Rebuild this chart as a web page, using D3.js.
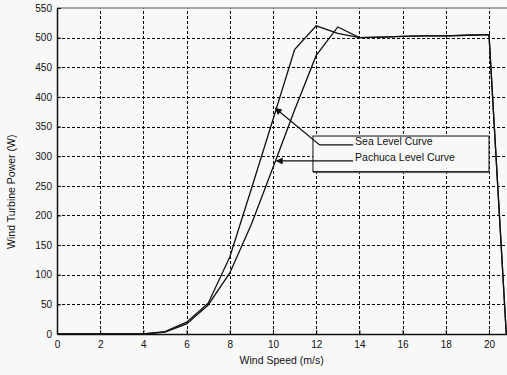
<!DOCTYPE html>
<meta charset="utf-8">
<style>
body { margin: 0; background: #f8f8f8; }
svg { display: block; font-family: "Liberation Sans", Arial, sans-serif; }
.grid line { stroke: #000; stroke-width: 1; stroke-dasharray: 3,2; shape-rendering: crispEdges; }
.curve { fill: none; stroke: #111; stroke-width: 1.3px; }
.tick text { font-size: 10px; fill: #111; }
</style>
<svg width="507" height="375"></svg>
<script src="https://cdn.jsdelivr.net/npm/d3@7"></script>
<script>

// wind speed (m/s)
var speed = [0, 1, 2, 3, 4, 5, 6, 7, 8, 9, 10, 11, 12, 13, 14, 15, 16, 17, 18, 19, 20, 20.8];
// power (W)
var seaLevel = [0, 0, 0, 0, 0, 4, 20, 52, 130, 245, 362, 480, 520, 507, 500, 501, 502, 503, 503, 504, 505, 0];
var pachuca = [0, 0, 0, 0, 0, 3, 17, 49, 103, 185, 281, 378, 470, 518, 500, 501, 502, 503, 503, 504, 505, 0];

var xTicks = [0, 2, 4, 6, 8, 10, 12, 14, 16, 18, 20];
var yTicks = [0, 50, 100, 150, 200, 250, 300, 350, 400, 450, 500, 550];
var seriesNames = ["Sea Level Curve", "Pachuca Level Curve"];

var svg = d3.select("svg");

var x = d3.scaleLinear().domain([0, 21]).range([57, 510.6]),
    y = d3.scaleLinear().domain([0, 550]).range([334, 8]);

// grid
var grid = svg.append("g").attr("class", "grid");
grid.selectAll(".gx").data(xTicks.slice(1)).enter().append("line")
    .attr("x1", function(d) { return Math.round(x(d)) + 0.5; }).attr("x2", function(d) { return Math.round(x(d)) + 0.5; })
    .attr("y1", y(0)).attr("y2", y(550));
grid.selectAll(".gy").data(yTicks.slice(1, -1)).enter().append("line")
    .attr("x1", x(0)).attr("x2", x(21))
    .attr("y1", function(d) { return Math.round(y(d)) + 0.5; }).attr("y2", function(d) { return Math.round(y(d)) + 0.5; });

// top frame
svg.append("line").attr("x1", x(0)).attr("x2", x(21))
    .attr("y1", y(550)).attr("y2", y(550))
    .attr("stroke", "#888").attr("stroke-width", 1.5);

// axes
var xAxis = svg.append("g").attr("transform", "translate(0," + y(0) + ")")
    .call(d3.axisBottom(x).tickValues(xTicks).tickSizeInner(-4).tickSizeOuter(0).tickPadding(7));
var yAxis = svg.append("g").attr("transform", "translate(" + x(0) + ",0)")
    .call(d3.axisLeft(y).tickValues(yTicks).tickSizeInner(-4).tickSizeOuter(0).tickPadding(5));
[xAxis, yAxis].forEach(function(a) {
  a.select(".domain").attr("stroke", "#111").attr("stroke-width", 1.5);
  a.selectAll(".tick line").attr("stroke", "#111");
});

// curves
var line = d3.line()
    .x(function(d, i) { return x(speed[i]); })
    .y(function(d) { return y(d); });

svg.append("path").datum(seaLevel).attr("class", "curve").attr("d", line);
svg.append("path").datum(pachuca).attr("class", "curve").attr("d", line);

// annotation box
var box = svg.append("g");
box.append("rect")
    .attr("x", x(11.85)).attr("y", y(334))
    .attr("width", x(20) - x(11.85)).attr("height", y(274) - y(334))
    .attr("fill", "#f8f8f8").attr("stroke", "#111").attr("stroke-width", 1);
box.append("line")
    .attr("x1", x(11.85)).attr("x2", x(20))
    .attr("y1", y(274) + 1).attr("y2", y(274) + 1)
    .attr("stroke", "#555").attr("stroke-width", 1);

box.selectAll("text").data(seriesNames).enter().append("text")
    .attr("x", x(13.8))
    .attr("y", function(d, i) { return y(i === 0 ? 319 : 292); })
    .attr("font-size", 10.5).attr("fill", "#111")
    .text(function(d) { return d; });

svg.append("defs").append("marker")
    .attr("id", "ah").attr("viewBox", "0 0 10 10").attr("refX", 9).attr("refY", 5)
    .attr("markerWidth", 9).attr("markerHeight", 7).attr("markerUnits", "userSpaceOnUse")
    .attr("orient", "auto")
  .append("path").attr("d", "M0,0L10,5L0,10Z").attr("fill", "#111");

var arrows = [
  [[13.8, 319], [12.25, 319], [10.2, 381]],
  [[13.8, 292], [10.25, 292]]
];
svg.selectAll(".arrow").data(arrows).enter().append("path")
    .attr("fill", "none").attr("stroke", "#111").attr("stroke-width", 1.2)
    .attr("marker-end", "url(#ah)")
    .attr("d", d3.line().x(function(d) { return x(d[0]) - 2; }).y(function(d) { return y(d[1]); }));

// axis labels
svg.append("text").attr("x", x(10.4)).attr("y", 364)
    .attr("text-anchor", "middle").attr("font-size", 10.5).attr("fill", "#111")
    .text("Wind Speed (m/s)");
svg.append("text").attr("transform", "translate(15," + y(240) + ") rotate(-90)")
    .attr("text-anchor", "middle").attr("font-size", 10.5).attr("fill", "#111")
    .text("Wind Turbine Power (W)");

</script>
